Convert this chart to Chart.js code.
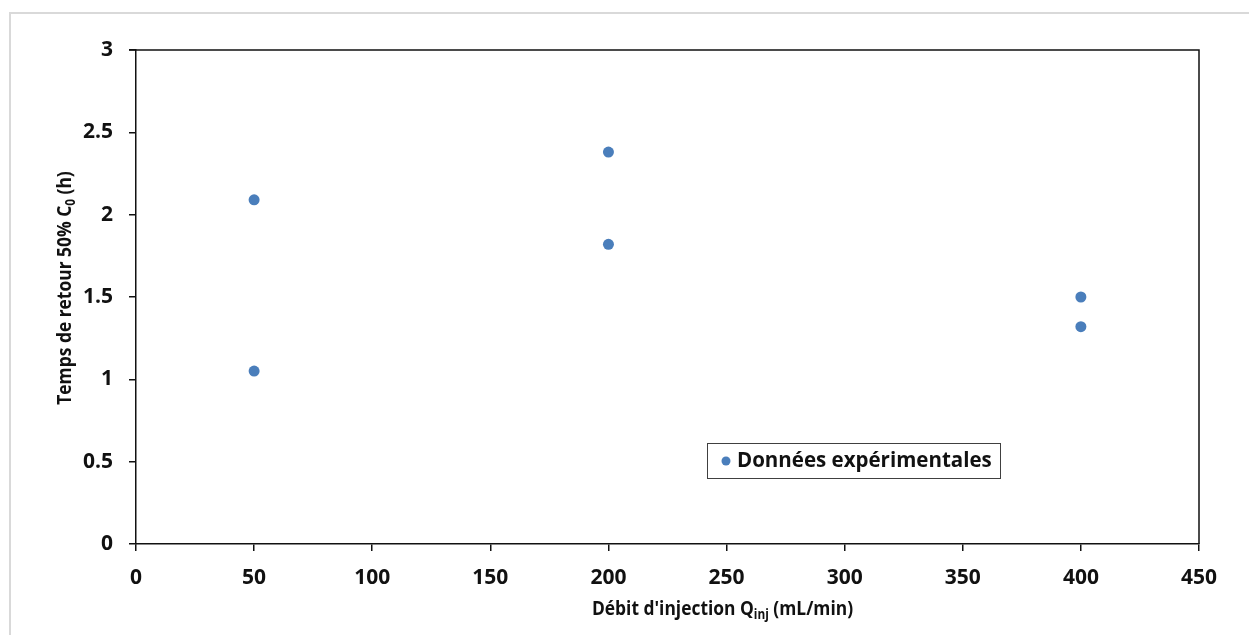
<!DOCTYPE html>
<html>
<head>
<meta charset="utf-8">
<script src="https://cdn.jsdelivr.net/npm/chart.js@4/dist/chart.umd.min.js"></script>
<style>
  html, body { margin: 0; padding: 0; background: #fff; }
  #c { display: block; }
</style>
</head>
<body>
<canvas id="c" width="1249" height="635"></canvas>
<script>
// values
var debits = [50, 50, 200, 200, 400, 400];           // Q_inj (mL/min)
var tempsRetour = [2.09, 1.05, 2.38, 1.82, 1.50, 1.32]; // h
var seriesLabel = 'Données expérimentales';
var xTitle = [['Débit d\'injection Q', 0], ['inj', 1], [' (mL/min)', 0]];
var yTitle = [['Temps de retour 50% C', 0], ['0', 1], [' (h)', 0]];

var FONT = '"Open Sans", "DejaVu Sans", sans-serif';
var INK = '#111';
var BLUE = '#4a7ebb';

var points = debits.map(function (d, i) { return { x: d, y: tempsRetour[i] }; });

// draws a title made of normal and subscript pieces (slightly condensed, like Calibri)
function drawRich(ctx, parts, size) {
    var widths = parts.map(function (p) {
        ctx.font = 'bold ' + (p[1] ? size * 0.68 : size) + 'px ' + FONT;
        return ctx.measureText(p[0]).width;
    });
    var total = widths.reduce(function (a, b) { return a + b; }, 0);
    var x = -total / 2;
    ctx.scale(0.87, 1);
    ctx.textBaseline = 'middle';
    ctx.textAlign = 'left';
    parts.forEach(function (p, i) {
        ctx.font = 'bold ' + (p[1] ? size * 0.68 : size) + 'px ' + FONT;
        ctx.fillText(p[0], x, p[1] ? size * 0.3 : 0);
        x += widths[i];
    });
}

var decorPlugin = {
    id: 'decor',
    beforeDraw: function (chart) {
        var ctx = chart.ctx;
        ctx.save();
        ctx.fillStyle = '#fff';
        ctx.fillRect(0, 0, chart.width, chart.height);
        ctx.strokeStyle = '#d9d9d9';
        ctx.lineWidth = 2;
        ctx.strokeRect(10, 13, chart.width + 20, chart.height + 20);
        ctx.restore();
    },
    afterDraw: function (chart) {
        var ctx = chart.ctx;
        var a = chart.chartArea;
        ctx.save();
        // top and right edges of the plot box
        ctx.strokeStyle = INK;
        ctx.lineWidth = 1.5;
        ctx.beginPath();
        ctx.moveTo(a.left - 7, a.top);
        ctx.lineTo(a.right, a.top);
        ctx.lineTo(a.right, a.bottom);
        ctx.stroke();

        // axis titles
        ctx.fillStyle = INK;
        ctx.save();
        ctx.translate((a.left + a.right) / 2 + 55, a.bottom + 65);
        drawRich(ctx, xTitle, 20);
        ctx.restore();
        ctx.save();
        ctx.translate(65, (a.top + a.bottom) / 2 - 9);
        ctx.rotate(-Math.PI / 2);
        drawRich(ctx, yTitle, 20);
        ctx.restore();

        // legend box inside the plot
        var lx = a.left + 571, ly = a.top + 393, lw = 293, lh = 35;
        ctx.fillStyle = '#fff';
        ctx.fillRect(lx, ly, lw, lh);
        ctx.strokeStyle = '#404040';
        ctx.lineWidth = 1;
        ctx.strokeRect(lx + 0.5, ly + 0.5, lw, lh);
        var ds = chart.data.datasets[0];
        ctx.fillStyle = ds.backgroundColor;
        ctx.beginPath();
        ctx.arc(lx + 19, ly + lh / 2 + 0.5, 4.5, 0, Math.PI * 2);
        ctx.fill();
        ctx.fillStyle = INK;
        ctx.font = 'bold 20.5px ' + FONT;
        ctx.textBaseline = 'middle';
        ctx.textAlign = 'left';
        ctx.fillText(ds.label, lx + 30, ly + lh / 2 + 1);
        ctx.restore();
    }
};

new Chart(document.getElementById('c'), {
    type: 'scatter',
    data: {
        datasets: [{
            label: seriesLabel,
            data: points,
            backgroundColor: BLUE,
            borderWidth: 0,
            pointRadius: 5.5,
            pointHoverRadius: 5.5
        }]
    },
    options: {
        responsive: false,
        animation: false,
        layout: { padding: { top: 50, right: 50, left: 0, bottom: 0 } },
        plugins: {
            legend: { display: false },
            tooltip: { enabled: false }
        },
        scales: {
            x: {
                type: 'linear',
                min: 0,
                max: 450,
                ticks: {
                    stepSize: 50,
                    color: INK,
                    padding: 14,
                    font: { family: FONT, size: 21, weight: 'bold' },
                    callback: function (v) { return String(v); }
                },
                grid: { drawOnChartArea: false, drawTicks: true, tickLength: 7, color: INK, lineWidth: 1.5 },
                border: { display: true, color: INK, width: 1.5 },
                afterFit: function (s) { s.height = 91; }
            },
            y: {
                type: 'linear',
                min: 0,
                max: 3,
                ticks: {
                    stepSize: 0.5,
                    color: INK,
                    padding: 16,
                    font: { family: FONT, size: 21, weight: 'bold' },
                    callback: function (v) { return String(v); }
                },
                grid: { drawOnChartArea: false, drawTicks: true, tickLength: 7, color: INK, lineWidth: 1.5 },
                border: { display: true, color: INK, width: 1.5 },
                afterFit: function (s) { s.width = 136; }
            }
        }
    },
    plugins: [decorPlugin]
});
</script>
</body>
</html>
